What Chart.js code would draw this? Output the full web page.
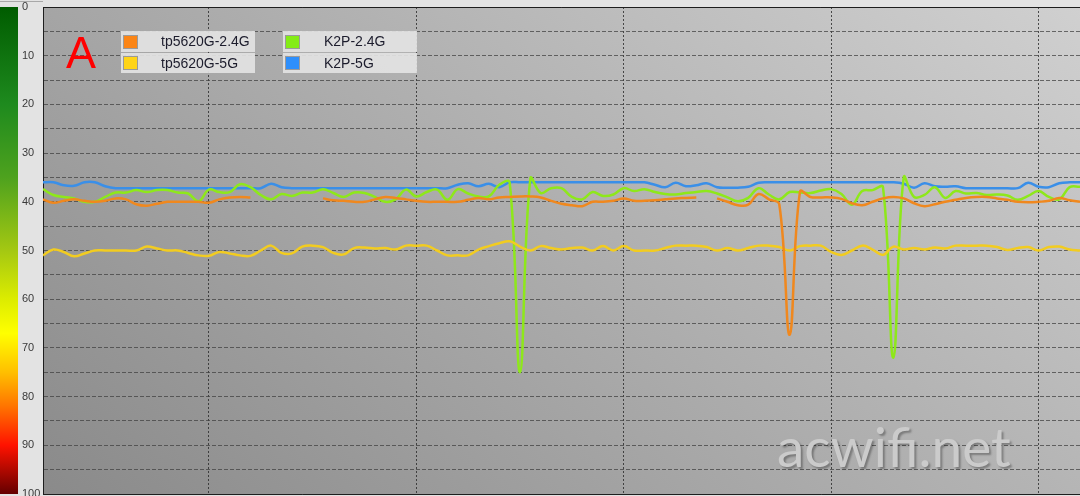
<!DOCTYPE html>
<html>
<head>
<meta charset="utf-8">
<script src="https://cdn.jsdelivr.net/npm/chart.js@4.4.1/dist/chart.umd.min.js"></script>
<style>
  html, body { margin: 0; padding: 0; background: #e3e3e3; overflow: hidden; }
  #wrap { position: relative; width: 1080px; height: 496px; }
  #signalChart { position: absolute; left: 0; top: 0; }
  .box { position: absolute; font-family: "Liberation Sans", Arial, sans-serif; font-size: 14px; color: #1c1c2c; }
  .row { position: absolute; left: 0; width: 134px; background: rgba(226, 226, 226, 0.93); }
  .sw { position: absolute; left: 2px; width: 13px; height: 12px; border: 1px solid #9a9a9a; }
  .lbl { position: absolute; white-space: nowrap; }
  #mark { position: absolute; left: 66px; top: 30px; font: 45px/45px "Liberation Sans", Arial, sans-serif; color: #ff0000; }
  #site { position: absolute; left: 777px; top: 419px; font: 55px/55px Lato, "Open Sans", sans-serif; color: #cbcbcb;
          text-shadow: 2px 2px 2px rgba(0, 0, 0, 0.3); }
</style>
</head>
<body>
<div id="wrap">
  <canvas id="signalChart" width="1080" height="496"></canvas>
  <div id="mark">A</div>
  <div id="legend"></div>
  <div id="site">acwifi.net</div>
</div>
<script>
// Название сетей (легенда)
const seriesNames = ['tp5620G-2.4G', 'tp5620G-5G', 'K2P-2.4G', 'K2P-5G'];

// Ось Y: уровень сигнала, 0 сверху, 100 снизу
const yTickLabels = [0, 10, 20, 30, 40, 50, 60, 70, 80, 90, 100];

// Отсчёты по времени (101 точка)
const times = Array.from({ length: 101 }, (_, i) => i);
// Вертикальные линии сетки
const timeGrid = [16, 36, 56, 76, 96];

const tp24 = [
  39.5, 40.2, 39.8, 39.5, 39.8, 40.0, 39.8, 39.3, 39.5, 40.5,
  40.8, 40.4, 40.0, 40.0, 40.0, 40.0, 40.2, 39.5, 39.1, 39.0,
  39.1, null, null, null, null, null, null, 39.3, 39.7, 39.8,
  40.0, 40.0, 39.5, 39.0, 39.2, 39.5, 39.8, 40.0, 40.0, 40.0,
  40.0, 39.6, 39.2, 39.5, 39.1, 39.0, 38.9, 38.9, 39.1, 39.8,
  40.4, 40.7, 40.9, 40.0, 40.0, 39.8, 39.3, 39.8, 39.8, 39.7,
  39.5, 39.3, 39.2, 39.1, null, 39.3, 40.0, 40.7, 40.6, 38.4,
  39.5, 40.5, 67.3, 37.9, 39.0, 39.1, 39.1, 39.4, 40.3, 40.7,
  40.0, 39.3, 39.0, 39.3, 40.3, 40.9, 40.5, 40.0, 39.6, 39.2,
  39.0, 39.0, 39.3, 39.6, 40.0, 40.1, 40.0, 39.8, 39.2, 39.7,
  40.0
];

const tp5 = [
  51.0, 49.8, 50.3, 51.2, 50.6, 50.0, 50.0, 50.0, 50.0, 50.0,
  49.2, 49.6, 50.0, 50.0, 50.5, 51.0, 51.1, 50.3, 50.6, 51.0,
  51.1, 50.0, 49.0, 50.5, 50.6, 49.2, 49.0, 49.3, 50.5, 50.8,
  49.5, 49.4, 49.6, 49.5, 49.8, 49.0, 49.0, 49.0, 50.0, 51.0,
  51.0, 51.0, 49.8, 49.1, 48.5, 48.1, 49.2, 50.0, 49.1, 49.5,
  49.8, 49.5, 49.4, 50.0, 49.1, 50.0, 49.1, 50.0, 50.0, 50.0,
  49.5, 49.0, 49.0, 49.0, 49.3, 50.0, 49.5, 50.0, 49.5, 49.0,
  49.0, 49.3, 50.0, 49.1, 49.0, 49.0, 50.3, 50.9, 50.0, 49.0,
  49.8, 50.9, 49.2, 49.8, 49.5, 49.8, 49.4, 49.6, 49.0, 49.0,
  49.0, 49.0, 49.3, 49.9, 49.5, 49.3, 50.0, 49.3, 49.2, 49.8,
  50.0
];

const k2p24 = [
  37.4, 38.6, 39.0, 39.3, 40.0, 40.0, 39.0, 38.1, 38.1, 37.6,
  38.0, 37.6, 37.6, 38.1, 38.3, 39.9, 37.5, 38.0, 38.0, 36.4,
  37.0, 38.6, 39.5, 38.4, 38.8, 38.1, 38.1, 37.4, 38.2, 39.0,
  38.1, 38.2, 39.0, 40.0, 39.5, 37.5, 38.9, 38.0, 37.5, 39.6,
  37.4, 38.3, 38.9, 38.9, 36.5, 36.0, 75.0, 35.2, 38.2, 37.2,
  37.2, 39.0, 39.5, 38.0, 38.8, 38.5, 37.2, 37.8, 37.4, 38.0,
  38.4, 38.5, 38.2, 38.0, 37.8, 38.3, 39.1, 39.9, 39.2, 37.2,
  38.5, 39.5, 38.0, 38.1, 38.2, 37.7, 37.4, 38.4, 40.6, 37.8,
  37.6, 37.0, 72.0, 35.0, 39.0, 38.6, 37.0, 39.2, 37.8, 38.3,
  38.2, 38.6, 38.5, 38.7, 39.6, 38.8, 37.8, 39.0, 39.5, 37.0,
  36.9
];

const k2p5 = [
  36.0, 36.0, 36.6, 36.7, 36.0, 36.0, 36.8, 37.2, 37.2, 37.2,
  37.2, 37.2, 37.2, 37.2, 37.2, 37.2, 37.2, 37.2, 37.2, 37.2,
  37.2, 37.2, 36.3, 37.0, 37.2, 37.2, 37.2, 37.2, 37.2, 37.2,
  37.2, 37.2, 37.2, 37.2, 37.2, 37.2, 37.2, 37.2, 37.2, 37.2,
  36.5, 36.2, 36.8, 36.3, 37.0, 36.0, 36.0, 36.0, 36.0, 36.0,
  36.0, 36.0, 36.0, 36.0, 36.0, 36.0, 36.0, 36.0, 36.0, 36.5,
  37.0, 36.1, 36.8, 36.6, 36.2, 37.0, 37.1, 37.1, 36.9, 36.1,
  36.0, 36.0, 36.0, 36.0, 36.0, 36.0, 36.0, 36.0, 36.0, 36.0,
  36.0, 36.0, 36.0, 36.3, 37.1, 36.2, 36.8, 36.9, 36.8, 37.2,
  37.2, 37.2, 37.2, 37.2, 37.2, 36.1, 36.9, 37.0, 36.2, 36.0,
  36.0
];

const lineColors = ['rgb(240, 136, 30)', 'rgb(242, 204, 32)', 'rgb(142, 232, 26)', 'rgb(58, 143, 232)'];
const swatchColors = ['#fb8516', '#ffd418', '#84ec16', '#2e8ffc'];

// Легенда: две колонки по две строки
const legendEl = document.getElementById('legend');
const boxes = [{ left: 121, text: 40 }, { left: 283, text: 41 }];
seriesNames.forEach((name, i) => {
  const col = boxes[i < 2 ? 0 : 1];
  const r = i % 2;
  const row = document.createElement('div');
  row.className = 'box row';
  row.style.left = col.left + 'px';
  row.style.top = (r === 0 ? 31 : 53) + 'px';
  row.style.height = (r === 0 ? 21 : 20) + 'px';
  row.innerHTML = '<div class="sw" style="top:' + (r === 0 ? 4 : 3) + 'px;background:' + swatchColors[i] + '"></div>' +
    '<div class="lbl" style="left:' + col.text + 'px;line-height:' + (r === 0 ? 21 : 20) + 'px">' + name + '</div>';
  legendEl.appendChild(row);
});

// Фон: цветная шкала слева, серый градиент в области графика
const backdrop = {
  id: 'backdrop',
  beforeDraw(chart) {
    const { ctx, chartArea: a, width, height } = chart;
    ctx.save();
    ctx.fillStyle = '#e3e3e3';
    ctx.fillRect(0, 0, width, height);
    ctx.fillStyle = '#a8a8a8';
    ctx.fillRect(0, 1, a.left, 1);

    const strip = ctx.createLinearGradient(0, a.top, 0, a.bottom);
    strip.addColorStop(0, '#005c00');
    strip.addColorStop(0.2, '#1e8a1e');
    strip.addColorStop(0.35, '#4ea21e');
    strip.addColorStop(0.5, '#a4c812');
    strip.addColorStop(0.6, '#dcec00');
    strip.addColorStop(0.67, '#ffff00');
    strip.addColorStop(0.75, '#ffbf00');
    strip.addColorStop(0.82, '#ff7400');
    strip.addColorStop(0.9, '#ff1200');
    strip.addColorStop(1, '#640000');
    ctx.fillStyle = strip;
    ctx.fillRect(0, a.top, 18, a.bottom - a.top);

    const bg = ctx.createLinearGradient(a.left, a.bottom, a.left + 606, a.bottom - 810);
    bg.addColorStop(0, '#8a8a8a');
    bg.addColorStop(1, '#d0d0d0');
    ctx.fillStyle = bg;
    ctx.fillRect(a.left, a.top, a.right - a.left, a.bottom - a.top);
    ctx.restore();
  },
  afterDraw(chart) {
    const { ctx, chartArea: a } = chart;
    ctx.save();
    ctx.strokeStyle = '#1e1e1e';
    ctx.lineWidth = 1;
    ctx.beginPath();
    ctx.moveTo(a.left, a.top + 0.5);
    ctx.lineTo(a.right, a.top + 0.5);
    ctx.stroke();
    ctx.restore();
  }
};

const allSeries = [tp24, tp5, k2p24, k2p5];

new Chart(document.getElementById('signalChart'), {
  type: 'line',
  data: {
    datasets: allSeries.map((values, i) => ({
      label: seriesNames[i],
      data: times.map((t, j) => ({ x: t, y: values[j] })),
      borderColor: lineColors[i],
      borderWidth: 2.5,
      pointRadius: 0,
      tension: 0.4,
      spanGaps: false,
      fill: false
    }))
  },
  options: {
    responsive: false,
    animation: false,
    layout: { padding: { left: 22, top: 7, right: 0, bottom: 2 } },
    plugins: {
      legend: { display: false },
      tooltip: { enabled: false }
    },
    scales: {
      x: {
        type: 'linear',
        min: 0,
        max: 100,
        afterBuildTicks: scale => { scale.ticks = timeGrid.map(v => ({ value: v })); },
        afterFit: scale => { scale.height = 0; },
        ticks: { display: false },
        grid: { drawTicks: false, color: 'rgba(40, 40, 40, 0.8)', lineWidth: 1 },
        border: { display: true, color: '#1e1e1e', width: 1, dash: [2, 2] }
      },
      y: {
        type: 'linear',
        reverse: true,
        min: 0,
        max: 100,
        afterFit: scale => {
          scale.width = 21;
          scale.paddingTop = 0;
          scale.paddingBottom = 0;
        },
        ticks: {
          stepSize: 5,
          padding: 0,
          crossAlign: 'far',
          color: '#3a3a3a',
          font: { family: '"Liberation Sans", Arial, sans-serif', size: 11 },
          callback: v => (yTickLabels.includes(v) ? String(v) : '')
        },
        grid: { drawTicks: false, color: 'rgba(66, 66, 66, 0.75)', lineWidth: 1 },
        border: { display: true, color: '#1e1e1e', width: 1, dash: [4, 2] }
      }
    }
  },
  plugins: [backdrop]
});
</script>
</body>
</html>
